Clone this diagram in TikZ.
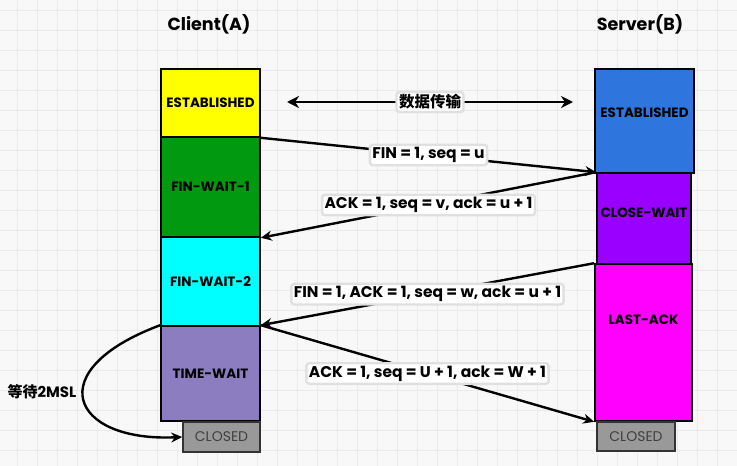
\documentclass[tikz,border=0pt]{standalone}
\usepackage{fontspec}
\setmainfont{Poppins}
\newfontfamily\cjk{Noto Sans CJK SC}
\usetikzlibrary{arrows.meta, positioning}

\definecolor{bgcol}{HTML}{F8F8F8}
\definecolor{gridcol}{HTML}{EAEAEA}
\definecolor{fwgreen}{HTML}{009910}
\definecolor{fwcyan}{HTML}{00FFFF}
\definecolor{twpurple}{HTML}{8C7DC1}
\definecolor{estblue}{HTML}{2E75DE}
\definecolor{cwviolet}{HTML}{9900FF}
\definecolor{lamagenta}{HTML}{FF00FF}
\definecolor{estyellow}{HTML}{FFFF00}
\definecolor{closedgray}{HTML}{999999}

\tikzset{
	statefont/.style={font=\fontsize{13.5}{15}\selectfont\bfseries},
	state/.style={draw=black, line width=1.6pt, minimum width=99pt, inner sep=0pt, statefont},
	closedbox/.style={draw=black!80, fill=closedgray, line width=1.6pt, inner sep=0pt, text=black!75, font=\fontsize{14}{15}\selectfont},
	msg/.style={line width=2.4pt, -{Stealth[length=11pt,width=10pt]}},
	lbl/.style={fill=white, draw=black!12, rounded corners=3pt, inner sep=2.5pt, font=\fontsize{15.5}{17}\selectfont\bfseries},
}

\begin{document}
\begin{tikzpicture}[x=1pt, y=-1pt]
		\useasboundingbox[fill=bgcol] (0,0) rectangle (737,466);
		\foreach \gx in {17,37,...,737} \draw[gridcol, line width=0.8pt] (\gx,0) -- (\gx,466);
		\foreach \gy in {10,30,...,466} \draw[gridcol, line width=0.8pt] (0,\gy) -- (737,\gy);

		% Titles
		\node[font=\fontsize{17.5}{19}\selectfont\bfseries] (titleA) at (209,24) {Client(A)};
		\node[font=\fontsize{17.5}{19}\selectfont\bfseries] (titleB) at (640,24) {Server(B)};

		% Client states
		\node[state, fill=estyellow, minimum height=68pt] (estA) at (210.5,103) {ESTABLISHED};
		\node[state, fill=fwgreen, minimum height=100pt] (fw1) at (210.5,187) {FIN-WAIT-1};
		\node[state, fill=fwcyan, minimum height=89pt] (fw2) at (210.5,281.5) {FIN-WAIT-2};
		\node[state, fill=twpurple, minimum height=95pt] (tw) at (210.5,373.5) {TIME-WAIT};
		\node[closedbox, minimum width=77pt, minimum height=30pt] (closedA) at (221.5,437) {CLOSED};

		% Server states
		\node[state, fill=estblue, minimum height=104pt, label={[yshift=8pt, statefont]center:ESTABLISHED}] (estB) at (644.5,121) {};
		\node[state, fill=cwviolet, minimum width=94pt, minimum height=91pt, label={[yshift=6pt, statefont]center:CLOSE-WAIT}] (cw) at (644,218.5) {};
		\node[state, fill=lamagenta, minimum width=97pt, minimum height=157pt, label={[yshift=23pt, statefont]center:LAST-ACK}] (la) at (643.5,342.5) {};
		\node[closedbox, minimum width=78pt, minimum height=29pt] (closedB) at (636,436.5) {CLOSED};

		% Data transfer
		\coordinate (dataL) at (287,102);
		\coordinate (dataR) at (573,102);
		\draw[line width=2.4pt, {Stealth[length=12pt,width=12pt]}-{Stealth[length=12pt,width=12pt]}] (dataL) -- node[lbl, font=\cjk\bfseries\fontsize{15.5}{17}\selectfont] (data) {数据传输} (dataR);

		% Segments
		\draw[msg] (estA.south east) -- node[lbl] (fin1) {FIN = 1, seq = u} (cw.north west);
		\draw[msg] (cw.north west) -- node[lbl] (ack1) {ACK = 1, seq = v, ack = u + 1} (fw1.south east);
		\draw[msg] (la.north west) -- node[lbl] (fin2) {FIN = 1, ACK = 1, seq = w, ack = u + 1} (tw.north east);
		\draw[msg] (tw.north east) -- node[lbl] (ack2) {ACK = 1, seq = U + 1, ack = W + 1} (la.south west);

		% 2MSL
		\draw[msg] (tw.north west) .. controls (40,370) and (70,442) .. (closedA.west);
		\node[font=\fontsize{15}{17}\selectfont\bfseries] (wait) at (42,392) {{\cjk 等待}2MSL};
	\end{tikzpicture}
\end{document}
